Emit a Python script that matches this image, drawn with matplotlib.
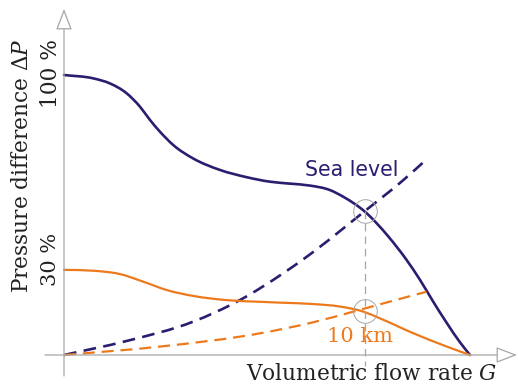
import matplotlib
matplotlib.use("Agg")
import matplotlib.pyplot as plt
import numpy as np
from matplotlib.path import Path
from matplotlib.patches import PathPatch

# pump curves (sea level, 10 km) and system curves; G normalised to 1, dP in %
g_sea = [0, 0.072, 0.113, 0.154, 0.187, 0.212, 0.236, 0.269, 0.318, 0.384, 0.450, 0.507,
         0.557, 0.606, 0.655, 0.688, 0.741, 0.799, 0.844, 0.877, 0.910, 0.943, 0.975, 1.0]
p_sea = [100, 98.8, 97.0, 93.5, 88.7, 83.9, 79.8, 75.0, 70.2, 66.1, 63.5, 61.9,
         61.2, 60.5, 58.9, 56.5, 51.2, 42.3, 33.9, 26.8, 18.9, 11.4, 4.6, 0]

g_10km = [0, 0.072, 0.138, 0.195, 0.253, 0.318, 0.401, 0.483, 0.532, 0.614, 0.680,
          0.737, 0.778, 0.860, 0.943, 1.0]
p_10km = [30.4, 30.1, 28.9, 26.2, 23.2, 21.1, 19.6, 19.0, 18.7, 18.2, 17.3,
          15.5, 13.1, 7.8, 3.0, 0]

g_sys_sea = [0, 0.154, 0.318, 0.433, 0.540, 0.598, 0.741, 0.836, 0.894]
p_sys_sea = [0, 5.0, 11.9, 19.6, 29.2, 35.1, 51.4, 62.5, 70.0]

g_sys_10km = [0, 0.236, 0.483, 0.614, 0.713, 0.778, 0.893]
p_sys_10km = [0, 3.0, 7.75, 11.7, 15.5, 18.1, 22.6]

g_op = 0.741
p_op = [51.4, 15.7]

NAVY = "#2b1d6f"
ORANGE = "#ec7a1c"
GRAY = "#a6a6a6"
TEXT = "#222222"

plt.rcParams["mathtext.fontset"] = "dejavuserif"
SERIF = "DejaVu Serif"


def smooth_path(x, y):
    """Cubic Hermite through the read points (3-point slopes), as Bezier segments."""
    x = np.asarray(x, float)
    y = np.asarray(y, float)
    h = np.diff(x)
    s = np.diff(y) / h
    m = np.empty_like(x)
    m[0], m[-1] = s[0], s[-1]
    m[1:-1] = (h[1:] * s[:-1] + h[:-1] * s[1:]) / (h[1:] + h[:-1])
    verts, codes = [(x[0], y[0])], [Path.MOVETO]
    for i in range(len(h)):
        d = h[i] / 3
        verts += [(x[i] + d, y[i] + m[i] * d), (x[i + 1] - d, y[i + 1] - m[i + 1] * d),
                  (x[i + 1], y[i + 1])]
        codes += [Path.CURVE4] * 3
    return Path(verts, codes)


def curve(ax, x, y, **kw):
    ax.add_patch(PathPatch(smooth_path(x, y), fill=False, **kw))


fig = plt.figure(figsize=(5.18, 3.85), dpi=100)
ax = fig.add_axes([0, 0, 1, 1])
# px -> data: G = (px - 64) / 406, dP = (355 - py) / 2.8
ax.set_xlim(-64 / 406, (518 - 64) / 406)
ax.set_ylim((355 - 385) / 2.8, 355 / 2.8)
ax.axis("off")

# axes with open arrow heads
arrow = dict(arrowstyle="-|>,head_length=1.3,head_width=0.5", fc="white", ec=GRAY,
             lw=0.9, shrinkA=0, shrinkB=0)
ax.annotate("", xy=(0, (355 - 9) / 2.8), xytext=(0, (355 - 376) / 2.8), arrowprops=arrow)
ax.annotate("", xy=((517 - 64) / 406, 0), xytext=((45 - 64) / 406, 0), arrowprops=arrow)

# operating point guide
ax.plot([g_op, g_op], [p_op[0], -4.0], color=GRAY, lw=0.9, dashes=(6, 4))

curve(ax, g_sea, p_sea, ec=NAVY, lw=1.9, capstyle="round")
curve(ax, g_sys_sea, p_sys_sea, ec=NAVY, lw=1.9, linestyle=(0, (4.8, 2.8)))
curve(ax, g_10km, p_10km, ec=ORANGE, lw=1.6, capstyle="round")
curve(ax, g_sys_10km, p_sys_10km, ec=ORANGE, lw=1.6, linestyle=(0, (5.4, 3.1)))

ax.plot([g_op] * 2, p_op, "o", ms=17, mfc="none", mec=GRAY, mew=0.7)

ax.text((305 - 64) / 406, (355 - 170) / 2.8, "Sea level", color=NAVY, fontsize=14.8,
        family="DejaVu Sans", va="center", ha="left")
ax.text((327 - 64) / 406, (355 - 337) / 2.8, "10 km", color=ORANGE, fontsize=15,
        family=SERIF, va="center", ha="left")
ax.text((372 - 64) / 406, (355 - 374) / 2.8, "Volumetric flow rate $G$", color=TEXT,
        fontsize=15.6, family=SERIF, va="center", ha="center")
ax.text((22 - 64) / 406, (355 - 166) / 2.8, "Pressure difference Δ$P$", color=TEXT,
        fontsize=15.6, family=SERIF, va="center", ha="center", rotation=90)
ax.text((51 - 64) / 406, (355 - 74) / 2.8, "100 %", color=TEXT, fontsize=15.6,
        family=SERIF, va="center", ha="center", rotation=90)
ax.text((51 - 64) / 406, (355 - 259) / 2.8, "30 %", color=TEXT, fontsize=15,
        family=SERIF, va="center", ha="center", rotation=90)

fig.savefig("out.png", dpi=100)
